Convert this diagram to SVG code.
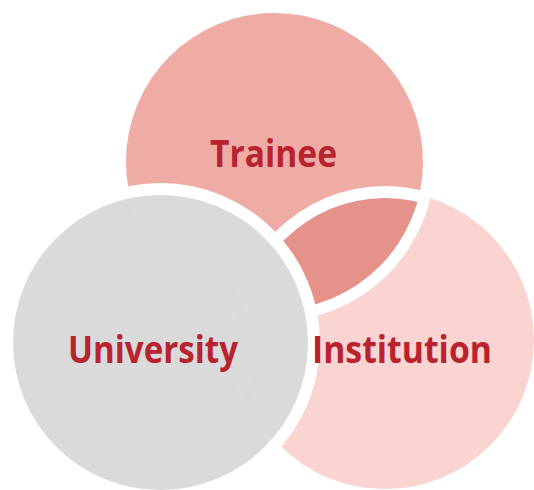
<svg xmlns="http://www.w3.org/2000/svg" width="534" height="490" viewBox="0 0 534 490">
  <style>
    .label { font-family: "Open Sans", "Liberation Sans", sans-serif; font-weight: 700; font-size: 37.5px; fill: #b8232f; text-anchor: middle; }
    .gap { fill: #ffffff; }
    .seam { fill: none; stroke: #f0eaea; stroke-width: 0.6; opacity: 0.45; }
  </style>
  <defs>
    <clipPath id="clip-trainee-outer"><circle cx="274.5" cy="161.5" r="160"/></clipPath>
    <clipPath id="clip-trainee"><circle cx="274.5" cy="161.5" r="148.5"/></clipPath>
    <clipPath id="clip-university"><circle cx="160.5" cy="342.5" r="147.5"/></clipPath>
  </defs>

  <rect width="534" height="490" fill="#ffffff"/>

  <!-- Trainee circle -->
  <g id="trainee">
    <circle cx="274.5" cy="161.5" r="148.5" fill="#efaca5"/>
  </g>

  <!-- Institution circle -->
  <g id="institution">
    <circle cx="385" cy="340" r="149" fill="#f9d4d1"/>
  </g>

  <!-- Trainee / Institution overlap with its white border -->
  <g id="overlap">
    <circle class="gap" cx="385" cy="340" r="154" clip-path="url(#clip-trainee-outer)"/>
    <circle cx="385" cy="340" r="142" fill="#e4928a" clip-path="url(#clip-trainee)"/>
  </g>

  <!-- University circle with white outline -->
  <g id="university">
    <circle class="gap" cx="160.5" cy="342.5" r="159.5"/>
    <circle cx="160.5" cy="342.5" r="147.5" fill="#dadada"/>
    <g clip-path="url(#clip-university)">
      <circle class="seam" cx="274.5" cy="161.5" r="148.5"/>
      <circle class="seam" cx="274.5" cy="161.5" r="160"/>
      <circle class="seam" cx="385" cy="340" r="142"/>
      <circle class="seam" cx="385" cy="340" r="154"/>
    </g>
  </g>

  <!-- Labels -->
  <g id="labels">
    <text class="label" x="273.5" y="167" textLength="127" lengthAdjust="spacingAndGlyphs">Trainee</text>
    <text class="label" x="153" y="363" textLength="170" lengthAdjust="spacingAndGlyphs">University</text>
    <text class="label" x="402" y="363" textLength="180" lengthAdjust="spacingAndGlyphs">Institution</text>
  </g>
</svg>
